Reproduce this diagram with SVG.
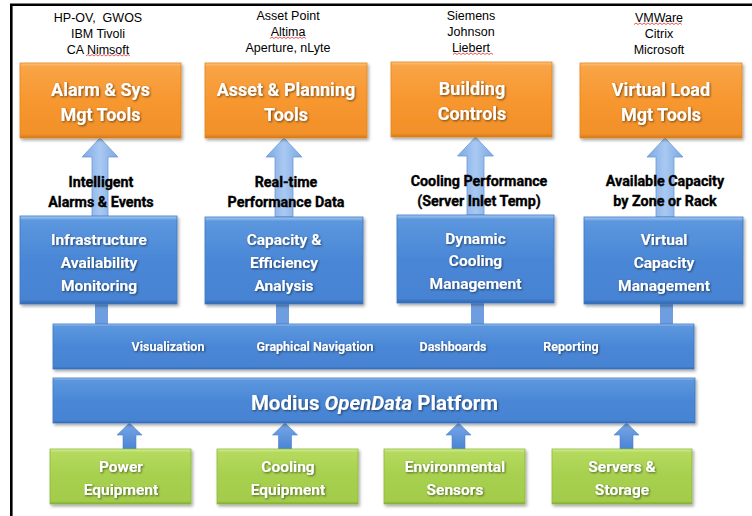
<svg xmlns="http://www.w3.org/2000/svg" width="752" height="516" viewBox="0 0 752 516">
<defs>
<linearGradient id="gOr" x1="0" y1="0" x2="0" y2="1">
<stop offset="0" stop-color="#FDC27E"/><stop offset="0.05" stop-color="#F9A447"/><stop offset="0.5" stop-color="#F7972F"/><stop offset="0.95" stop-color="#F2902A"/><stop offset="1" stop-color="#D07818"/>
</linearGradient>
<linearGradient id="gBl" x1="0" y1="0" x2="0" y2="1">
<stop offset="0" stop-color="#A9CBF3"/><stop offset="0.05" stop-color="#5C97DE"/><stop offset="0.5" stop-color="#4A87D6"/><stop offset="0.95" stop-color="#4683D2"/><stop offset="1" stop-color="#2F65AE"/>
</linearGradient>
<linearGradient id="gGr" x1="0" y1="0" x2="0" y2="1">
<stop offset="0" stop-color="#D8F09A"/><stop offset="0.06" stop-color="#B5DA5E"/><stop offset="0.5" stop-color="#A6D04E"/><stop offset="0.95" stop-color="#A2CC4A"/><stop offset="1" stop-color="#7EA630"/>
</linearGradient>
<linearGradient id="gAr" x1="0" y1="0" x2="1" y2="0">
<stop offset="0" stop-color="#7BA7E2"/><stop offset="0.5" stop-color="#A9C9F2"/><stop offset="1" stop-color="#7BA7E2"/>
</linearGradient>
<linearGradient id="gSm" x1="0" y1="0" x2="0" y2="1">
<stop offset="0" stop-color="#77A6E6"/><stop offset="1" stop-color="#4B85D4"/>
</linearGradient>
<filter id="sh" x="-10%" y="-10%" width="125%" height="135%">
<feDropShadow dx="1.5" dy="2" stdDeviation="1.5" flood-color="#000" flood-opacity="0.35"/>
</filter>
<filter id="ts" x="-10%" y="-20%" width="120%" height="150%">
<feDropShadow dx="1" dy="1" stdDeviation="0.8" flood-color="#000" flood-opacity="0.55"/>
</filter>
</defs>
<style>
.or{fill:url(#gOr);stroke:#E0861F;stroke-width:0.8;filter:url(#sh)}
.bl{fill:url(#gBl);stroke:#3E78C4;stroke-width:0.8;filter:url(#sh)}
.gr{fill:url(#gGr);stroke:#8CB83C;stroke-width:0.8;filter:url(#sh)}
.bt{font-family:Roboto,"Open Sans",sans-serif;font-weight:700;fill:#fff;text-anchor:middle;filter:url(#ts)}
.top{font-family:"Liberation Sans",Arial,sans-serif;font-size:12.5px;fill:#000;text-anchor:middle}
.lab{font-family:Roboto,"Open Sans",sans-serif;font-weight:700;font-size:14.3px;fill:#000;stroke:#000;stroke-width:0.35;text-anchor:middle}
.arr{fill:url(#gAr);stroke:#6B9BD8;stroke-width:0.8}
.con{fill:#6E9EE0}
.sm{fill:url(#gSm);stroke:#4A82CE;stroke-width:0.6}
.sq{fill:none;stroke:#E03030;stroke-width:0.8}
</style>

<g id="frame" fill="none" stroke="#000" stroke-width="2.6">
<path d="M11.3 516 V4.8 H752"/>
</g>

<g id="connectors">
<path class="arr" d="M100 138 L118 157 L108 157 L108 217 L92 217 L92 157 L82 157 Z"/>
<path class="arr" d="M284 138 L302 157 L293 157 L293 217 L275 217 L275 157 L266 157 Z"/>
<path class="arr" d="M475.5 137 L493.5 156 L484 156 L484 215 L467 215 L467 156 L457.5 156 Z"/>
<path class="arr" d="M665 138 L683 157 L674 157 L674 217 L656 217 L656 157 L647 157 Z"/>
<rect class="con" x="95" y="304" width="13" height="20"/>
<rect class="con" x="276" y="304" width="13" height="20"/>
<rect class="con" x="471" y="303" width="13" height="21"/>
<rect class="con" x="660" y="304" width="13" height="20"/>
<path class="sm" d="M129.5 423 L142 435 L136 435 L136 449 L123 449 L123 435 L117 435 Z"/>
<path class="sm" d="M285 423 L297.5 435 L291.5 435 L291.5 449 L278.5 449 L278.5 435 L272.5 435 Z"/>
<path class="sm" d="M458.5 423 L471 435 L465 435 L465 449 L452 449 L452 435 L446 435 Z"/>
<path class="sm" d="M626.5 423 L639 435 L633 435 L633 449 L620 449 L620 435 L614 435 Z"/>
</g>

<g id="vendors1">
<text class="top" x="98" y="22">HP-OV,&#160; GWOS</text>
<text class="top" x="98" y="38">IBM Tivoli</text>
<text class="top" x="98" y="53.5">CA Nimsoft</text>
<path class="sq" d="M86 56 l2 -1.5 l2 1.5 l2 -1.5 l2 1.5 l2 -1.5 l2 1.5 l2 -1.5 l2 1.5 l2 -1.5 l2 1.5 l2 -1.5 l2 1.5 l2 -1.5 l2 1.5 l2 -1.5 l2 1.5 l2 -1.5 l2 1.5 l2 -1.5 l2 1.5 l2 -1.5 l2 1.5"/>
</g>
<g id="vendors2">
<text class="top" x="288" y="20">Asset Point</text>
<text class="top" x="288" y="36">Altima</text>
<text class="top" x="288" y="51.5">Aperture, nLyte</text>
<path class="sq" d="M270 38.5 l2 -1.5 l2 1.5 l2 -1.5 l2 1.5 l2 -1.5 l2 1.5 l2 -1.5 l2 1.5 l2 -1.5 l2 1.5 l2 -1.5 l2 1.5 l2 -1.5 l2 1.5 l2 -1.5 l2 1.5 l2 -1.5 l2 1.5"/>
</g>
<g id="vendors3">
<text class="top" x="471" y="20">Siemens</text>
<text class="top" x="471" y="36">Johnson</text>
<text class="top" x="471" y="51.5">Liebert</text>
<path class="sq" d="M453 54.5 l2 -1.5 l2 1.5 l2 -1.5 l2 1.5 l2 -1.5 l2 1.5 l2 -1.5 l2 1.5 l2 -1.5 l2 1.5 l2 -1.5 l2 1.5 l2 -1.5 l2 1.5 l2 -1.5 l2 1.5 l2 -1.5 l2 1.5 l2 -1.5 l2 1.5"/>
</g>
<g id="vendors4">
<text class="top" x="659" y="22">VMWare</text>
<text class="top" x="659" y="38">Citrix</text>
<text class="top" x="659" y="53.5">Microsoft</text>
<path class="sq" d="M634 24.5 l2 -1.5 l2 1.5 l2 -1.5 l2 1.5 l2 -1.5 l2 1.5 l2 -1.5 l2 1.5 l2 -1.5 l2 1.5 l2 -1.5 l2 1.5 l2 -1.5 l2 1.5 l2 -1.5 l2 1.5 l2 -1.5 l2 1.5 l2 -1.5 l2 1.5 l2 -1.5 l2 1.5 l2 -1.5 l2 1.5"/>
</g>

<g id="alarm-tools">
<rect class="or" x="20" y="63" width="161" height="75"/>
<text class="bt" font-size="18" x="100.5" y="96">Alarm &amp; Sys</text>
<text class="bt" font-size="18" x="100.5" y="121">Mgt Tools</text>
</g>
<g id="asset-tools">
<rect class="or" x="205" y="63" width="162" height="75"/>
<text class="bt" font-size="18" x="286" y="96">Asset &amp; Planning</text>
<text class="bt" font-size="18" x="286" y="121">Tools</text>
</g>
<g id="building-controls">
<rect class="or" x="391" y="62" width="161" height="75"/>
<text class="bt" font-size="18" x="472" y="95">Building</text>
<text class="bt" font-size="18" x="472" y="120">Controls</text>
</g>
<g id="virtual-load">
<rect class="or" x="580" y="63" width="162" height="75"/>
<text class="bt" font-size="18" x="661" y="96">Virtual Load</text>
<text class="bt" font-size="18" x="661" y="121">Mgt Tools</text>
</g>

<g id="labels">
<text class="lab" x="101" y="187">Intelligent</text>
<text class="lab" x="101" y="207">Alarms &amp; Events</text>
<text class="lab" x="286" y="187">Real-time</text>
<text class="lab" x="286" y="207">Performance Data</text>
<text class="lab" x="479" y="186">Cooling Performance</text>
<text class="lab" x="479" y="206">(Server Inlet Temp)</text>
<text class="lab" x="665" y="186">Available Capacity</text>
<text class="lab" x="665" y="206">by Zone or Rack</text>
</g>

<g id="infra-monitoring">
<rect class="bl" x="20" y="216" width="157" height="88"/>
<text class="bt" font-size="15.5" x="99" y="245">Infrastructure</text>
<text class="bt" font-size="15.5" x="99" y="268">Availability</text>
<text class="bt" font-size="15.5" x="99" y="291">Monitoring</text>
</g>
<g id="capacity-analysis">
<rect class="bl" x="205" y="217" width="158" height="87"/>
<text class="bt" font-size="15.5" x="284" y="245">Capacity &amp;</text>
<text class="bt" font-size="15.5" x="284" y="268">Efficiency</text>
<text class="bt" font-size="15.5" x="284" y="291">Analysis</text>
</g>
<g id="dynamic-cooling">
<rect class="bl" x="397" y="215" width="157" height="88"/>
<text class="bt" font-size="15.5" x="475.5" y="244">Dynamic</text>
<text class="bt" font-size="15.5" x="475.5" y="266">Cooling</text>
<text class="bt" font-size="15.5" x="475.5" y="289">Management</text>
</g>
<g id="virtual-capacity">
<rect class="bl" x="584" y="217" width="159" height="87"/>
<text class="bt" font-size="15.5" x="664" y="245">Virtual</text>
<text class="bt" font-size="15.5" x="664" y="268">Capacity</text>
<text class="bt" font-size="15.5" x="664" y="291">Management</text>
</g>

<g id="services-bar">
<rect class="bl" x="53" y="324" width="641" height="45"/>
<text class="bt" font-size="12.5" x="168" y="351">Visualization</text>
<text class="bt" font-size="12.5" x="315" y="351">Graphical Navigation</text>
<text class="bt" font-size="12.5" x="453" y="351">Dashboards</text>
<text class="bt" font-size="12.5" x="571" y="351">Reporting</text>
</g>

<g id="platform">
<rect class="bl" x="53" y="378" width="642" height="45"/>
<text class="bt" font-size="20.5" x="374.5" y="410">Modius <tspan font-style="italic">OpenData</tspan> Platform</text>
</g>

<g id="power">
<rect class="gr" x="50" y="449" width="141" height="55"/>
<text class="bt" font-size="15.5" x="121" y="472">Power</text>
<text class="bt" font-size="15.5" x="121" y="495">Equipment</text>
</g>
<g id="cooling">
<rect class="gr" x="217" y="449" width="141" height="55"/>
<text class="bt" font-size="15.5" x="288" y="472">Cooling</text>
<text class="bt" font-size="15.5" x="288" y="495">Equipment</text>
</g>
<g id="sensors">
<rect class="gr" x="384" y="449" width="141" height="55"/>
<text class="bt" font-size="15.5" x="455" y="472">Environmental</text>
<text class="bt" font-size="15.5" x="455" y="495">Sensors</text>
</g>
<g id="servers">
<rect class="gr" x="552" y="449" width="140" height="55"/>
<text class="bt" font-size="15.5" x="622" y="472">Servers &amp;</text>
<text class="bt" font-size="15.5" x="622" y="495">Storage</text>
</g>
</svg>
